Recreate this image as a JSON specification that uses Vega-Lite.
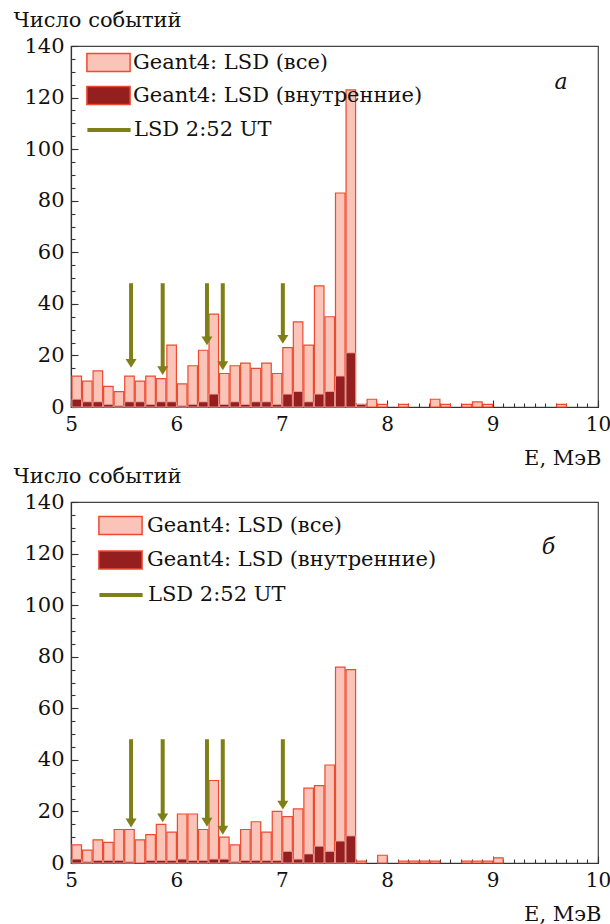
{
  "$schema": "https://vega.github.io/schema/vega-lite/v6.json",
  "padding": {"left": 12, "top": 8, "right": 0, "bottom": 5},
  "background": "white",
  "config": {
    "font": "DejaVu Serif",
    "view": {"stroke": "#444", "strokeWidth": 1.2},
    "axis": {
      "domainColor": "#333", "domainWidth": 1.2, "tickColor": "#333", "tickWidth": 1.1,
      "labelFont": "DejaVu Serif", "labelFontSize": 21, "labelColor": "#111",
      "titleFont": "DejaVu Serif", "titleFontSize": 21, "titleFontWeight": "normal", "titleColor": "#111",
      "grid": false, "labelFlush": false, "labelOverlap": false
    },
    "legend": {
      "labelFont": "DejaVu Serif", "labelFontSize": 21, "labelColor": "#111", "labelLimit": 600,
      "padding": 0, "symbolType": "M-2.4,-1H2.4V1H-2.4Z", "symbolSize": 324, "symbolOffset": 12
    }
  },
  "datasets": {
    "hist_a": [
      {"E": 5.0, "all": 12, "inner": 3}, {"E": 5.1, "all": 10, "inner": 2}, {"E": 5.2, "all": 14, "inner": 2},
      {"E": 5.3, "all": 8, "inner": 1}, {"E": 5.4, "all": 6, "inner": 0.5}, {"E": 5.5, "all": 12, "inner": 2},
      {"E": 5.6, "all": 10, "inner": 2}, {"E": 5.7, "all": 12, "inner": 1}, {"E": 5.8, "all": 11, "inner": 2},
      {"E": 5.9, "all": 24, "inner": 2}, {"E": 6.0, "all": 9, "inner": 0.5}, {"E": 6.1, "all": 16, "inner": 1},
      {"E": 6.2, "all": 22, "inner": 2}, {"E": 6.3, "all": 36, "inner": 5}, {"E": 6.4, "all": 13, "inner": 1},
      {"E": 6.5, "all": 16, "inner": 2}, {"E": 6.6, "all": 17, "inner": 1}, {"E": 6.7, "all": 15, "inner": 2},
      {"E": 6.8, "all": 17, "inner": 2}, {"E": 6.9, "all": 13, "inner": 1}, {"E": 7.0, "all": 23, "inner": 5},
      {"E": 7.1, "all": 33, "inner": 6}, {"E": 7.2, "all": 24, "inner": 2}, {"E": 7.3, "all": 47, "inner": 5},
      {"E": 7.4, "all": 35, "inner": 6}, {"E": 7.5, "all": 83, "inner": 12}, {"E": 7.6, "all": 123, "inner": 21},
      {"E": 7.7, "all": 1, "inner": 1}, {"E": 7.8, "all": 3, "inner": 0}, {"E": 7.9, "all": 1, "inner": 0},
      {"E": 8.1, "all": 1, "inner": 0}, {"E": 8.4, "all": 3, "inner": 0}, {"E": 8.5, "all": 1, "inner": 0},
      {"E": 8.7, "all": 1, "inner": 0}, {"E": 8.8, "all": 2, "inner": 0}, {"E": 8.9, "all": 1, "inner": 0},
      {"E": 9.6, "all": 1, "inner": 0}
    ],
    "hist_b": [
      {"E": 5.0, "all": 7, "inner": 1.5}, {"E": 5.1, "all": 5, "inner": 0.5}, {"E": 5.2, "all": 9, "inner": 1},
      {"E": 5.3, "all": 8, "inner": 1}, {"E": 5.4, "all": 13, "inner": 1}, {"E": 5.5, "all": 13, "inner": 0.5},
      {"E": 5.6, "all": 9, "inner": 0}, {"E": 5.7, "all": 11, "inner": 1}, {"E": 5.8, "all": 15, "inner": 1},
      {"E": 5.9, "all": 12, "inner": 1}, {"E": 6.0, "all": 19, "inner": 1.5}, {"E": 6.1, "all": 19, "inner": 1},
      {"E": 6.2, "all": 13, "inner": 1}, {"E": 6.3, "all": 32, "inner": 1.5}, {"E": 6.4, "all": 10, "inner": 1.5},
      {"E": 6.5, "all": 7, "inner": 0.5}, {"E": 6.6, "all": 13, "inner": 1}, {"E": 6.7, "all": 16, "inner": 1},
      {"E": 6.8, "all": 12, "inner": 1}, {"E": 6.9, "all": 20, "inner": 1}, {"E": 7.0, "all": 18, "inner": 4.5},
      {"E": 7.1, "all": 21, "inner": 1.5}, {"E": 7.2, "all": 29, "inner": 3.5}, {"E": 7.3, "all": 30, "inner": 6.5},
      {"E": 7.4, "all": 38, "inner": 4.5}, {"E": 7.5, "all": 76, "inner": 8.5}, {"E": 7.6, "all": 75, "inner": 10.5},
      {"E": 7.7, "all": 0.7, "inner": 0}, {"E": 7.9, "all": 3, "inner": 0}, {"E": 8.1, "all": 0.7, "inner": 0},
      {"E": 8.2, "all": 0.7, "inner": 0}, {"E": 8.3, "all": 0.7, "inner": 0}, {"E": 8.4, "all": 0.7, "inner": 0},
      {"E": 8.7, "all": 0.7, "inner": 0}, {"E": 8.8, "all": 0.7, "inner": 0}, {"E": 8.9, "all": 0.7, "inner": 0},
      {"E": 9.0, "all": 2, "inner": 0}
    ],
    "lsd_a": [
      {"E": 5.57, "top": 48, "tip": 15.2}, {"E": 5.87, "top": 48, "tip": 12.4}, {"E": 6.29, "top": 48, "tip": 23.9},
      {"E": 6.44, "top": 48, "tip": 14.3}, {"E": 7.01, "top": 48, "tip": 24.5}
    ],
    "lsd_b": [
      {"E": 5.57, "top": 48, "tip": 13.8}, {"E": 5.87, "top": 48, "tip": 15.8}, {"E": 6.29, "top": 48, "tip": 14.1},
      {"E": 6.44, "top": 48, "tip": 11.0}, {"E": 7.01, "top": 48, "tip": 20.7}
    ]
  },
  "bounds": "flush",
  "spacing": 95,
  "resolve": {
    "scale": {"fill": "independent", "stroke": "independent"},
    "legend": {"fill": "independent", "stroke": "independent"}
  },
  "vconcat": [
    {
      "width": 527, "height": 361,
      "resolve": {"axis": {"x": "independent", "y": "independent"}},
      "layer": [
        {
          "data": {"name": "hist_a"},
          "mark": {"type": "bar", "stroke": "#ef4a2f", "strokeWidth": 1.2},
          "encoding": {
            "x": {"field": "E", "type": "quantitative", "bin": {"binned": true, "step": 0.1},
              "scale": {"domain": [5, 10], "nice": false},
              "axis": {"orient": "bottom", "values": [5,5.1,5.2,5.3,5.4,5.5,5.6,5.7,5.8,5.9,6,6.1,6.2,6.3,6.4,6.5,6.6,6.7,6.8,6.9,7,7.1,7.2,7.3,7.4,7.5,7.6,7.7,7.8,7.9,8,8.1,8.2,8.3,8.4,8.5,8.6,8.7,8.8,8.9,9,9.1,9.2,9.3,9.4,9.5,9.6,9.7,9.8,9.9,10],
                "labels": false, "domain": false, "tickSize": -4, "title": null}},
            "y": {"field": "all", "type": "quantitative",
              "scale": {"domain": [0, 140], "nice": false},
              "axis": {"orient": "left", "values": [0,5,10,15,20,25,30,35,40,45,50,55,60,65,70,75,80,85,90,95,100,105,110,115,120,125,130,135,140],
                "labels": false, "domain": false, "tickSize": -4, "title": null}},
            "fill": {"datum": "Geant4: LSD (все)",
              "scale": {"domain": ["Geant4: LSD (все)", "Geant4: LSD (внутренние)"], "range": ["#fac4b8", "#951e1e"]},
              "legend": {"orient": "none", "legendX": 15, "legendY": 6, "title": null, "labelOffset": 14, "rowPadding": 8}}
          }
        },
        {
          "data": {"name": "hist_a"},
          "transform": [{"filter": "datum.inner > 0"}],
          "mark": {"type": "bar", "stroke": "#eaa5a0", "strokeWidth": 0.8},
          "encoding": {
            "x": {"field": "E", "type": "quantitative", "bin": {"binned": true, "step": 0.1}, "axis": null},
            "y": {"field": "inner", "type": "quantitative", "axis": null},
            "fill": {"datum": "Geant4: LSD (внутренние)"}
          }
        },
        {
          "data": {"name": "lsd_a"},
          "mark": {"type": "rule", "strokeWidth": 4, "y2Offset": -5},
          "encoding": {
            "x": {"field": "E", "type": "quantitative",
              "axis": {"orient": "bottom", "values": [5, 6, 7, 8, 9, 10], "format": "d", "tickSize": -7, "labelPadding": 14, "labelFontSize": 20,
                "title": "E, МэВ", "titleX": 530, "titleY": 57, "titleAlign": "right", "titleBaseline": "alphabetic"}},
            "y": {"field": "top", "type": "quantitative",
              "axis": {"orient": "left", "values": [0, 20, 40, 60, 80, 100, 120, 140], "tickSize": -7, "labelPadding": 14,
                "title": "Число событий", "titleAngle": 0, "titleX": -58, "titleY": -20, "titleAlign": "left", "titleBaseline": "alphabetic"}},
            "y2": {"field": "tip"},
            "stroke": {"datum": "LSD 2:52 UT",
              "scale": {"domain": ["LSD 2:52 UT"], "range": ["#7f7f17"]},
              "legend": {"orient": "none", "legendX": 15, "legendY": 73, "title": null, "labelOffset": 14,
                "symbolType": "M-2.4,0H2.4", "symbolStrokeWidth": 4}}
          }
        },
        {
          "data": {"name": "lsd_a"},
          "mark": {"type": "point", "filled": true, "opacity": 1, "color": "#7f7f17", "shape": "M-1,-1.6H1L0,0Z", "size": 121},
          "encoding": {
            "x": {"field": "E", "type": "quantitative", "axis": null},
            "y": {"field": "tip", "type": "quantitative", "axis": null}
          }
        },
        {
          "data": {"values": [{"E": 9.65, "n": 123.3, "tag": "а"}]},
          "mark": {"type": "text", "font": "DejaVu Serif", "fontStyle": "italic", "fontSize": 22, "align": "center", "baseline": "alphabetic", "color": "#111"},
          "encoding": {
            "x": {"field": "E", "type": "quantitative", "axis": null},
            "y": {"field": "n", "type": "quantitative", "axis": null},
            "text": {"field": "tag"}
          }
        }
      ]
    },
    {
      "width": 527, "height": 361,
      "resolve": {"axis": {"x": "independent", "y": "independent"}},
      "layer": [
        {
          "data": {"name": "hist_b"},
          "mark": {"type": "bar", "stroke": "#ef4a2f", "strokeWidth": 1.2},
          "encoding": {
            "x": {"field": "E", "type": "quantitative", "bin": {"binned": true, "step": 0.1},
              "scale": {"domain": [5, 10], "nice": false},
              "axis": {"orient": "bottom", "values": [5,5.1,5.2,5.3,5.4,5.5,5.6,5.7,5.8,5.9,6,6.1,6.2,6.3,6.4,6.5,6.6,6.7,6.8,6.9,7,7.1,7.2,7.3,7.4,7.5,7.6,7.7,7.8,7.9,8,8.1,8.2,8.3,8.4,8.5,8.6,8.7,8.8,8.9,9,9.1,9.2,9.3,9.4,9.5,9.6,9.7,9.8,9.9,10],
                "labels": false, "domain": false, "tickSize": -4, "title": null}},
            "y": {"field": "all", "type": "quantitative",
              "scale": {"domain": [0, 140], "nice": false},
              "axis": {"orient": "left", "values": [0,5,10,15,20,25,30,35,40,45,50,55,60,65,70,75,80,85,90,95,100,105,110,115,120,125,130,135,140],
                "labels": false, "domain": false, "tickSize": -4, "title": null}},
            "fill": {"datum": "Geant4: LSD (все)",
              "scale": {"domain": ["Geant4: LSD (все)", "Geant4: LSD (внутренние)"], "range": ["#fac4b8", "#951e1e"]},
              "legend": {"orient": "none", "legendX": 27, "legendY": 13, "title": null, "labelOffset": 16, "rowPadding": 9.5}}
          }
        },
        {
          "data": {"name": "hist_b"},
          "transform": [{"filter": "datum.inner > 0"}],
          "mark": {"type": "bar", "stroke": "#eaa5a0", "strokeWidth": 0.8},
          "encoding": {
            "x": {"field": "E", "type": "quantitative", "bin": {"binned": true, "step": 0.1}, "axis": null},
            "y": {"field": "inner", "type": "quantitative", "axis": null},
            "fill": {"datum": "Geant4: LSD (внутренние)"}
          }
        },
        {
          "data": {"name": "lsd_b"},
          "mark": {"type": "rule", "strokeWidth": 4, "y2Offset": -5},
          "encoding": {
            "x": {"field": "E", "type": "quantitative",
              "axis": {"orient": "bottom", "values": [5, 6, 7, 8, 9, 10], "format": "d", "tickSize": -7, "labelPadding": 14, "labelFontSize": 20,
                "title": "E, МэВ", "titleX": 530, "titleY": 57, "titleAlign": "right", "titleBaseline": "alphabetic"}},
            "y": {"field": "top", "type": "quantitative",
              "axis": {"orient": "left", "values": [0, 20, 40, 60, 80, 100, 120, 140], "tickSize": -7, "labelPadding": 14,
                "title": "Число событий", "titleAngle": 0, "titleX": -58, "titleY": -20, "titleAlign": "left", "titleBaseline": "alphabetic"}},
            "y2": {"field": "tip"},
            "stroke": {"datum": "LSD 2:52 UT",
              "scale": {"domain": ["LSD 2:52 UT"], "range": ["#7f7f17"]},
              "legend": {"orient": "none", "legendX": 27, "legendY": 82, "title": null, "labelOffset": 16,
                "symbolType": "M-2.4,0H2.4", "symbolStrokeWidth": 4}}
          }
        },
        {
          "data": {"name": "lsd_b"},
          "mark": {"type": "point", "filled": true, "opacity": 1, "color": "#7f7f17", "shape": "M-1,-1.6H1L0,0Z", "size": 121},
          "encoding": {
            "x": {"field": "E", "type": "quantitative", "axis": null},
            "y": {"field": "tip", "type": "quantitative", "axis": null}
          }
        },
        {
          "data": {"values": [{"E": 9.53, "n": 120, "tag": "б"}]},
          "mark": {"type": "text", "font": "DejaVu Serif", "fontStyle": "italic", "fontSize": 22, "align": "center", "baseline": "alphabetic", "color": "#111"},
          "encoding": {
            "x": {"field": "E", "type": "quantitative", "axis": null},
            "y": {"field": "n", "type": "quantitative", "axis": null},
            "text": {"field": "tag"}
          }
        }
      ]
    }
  ]
}
